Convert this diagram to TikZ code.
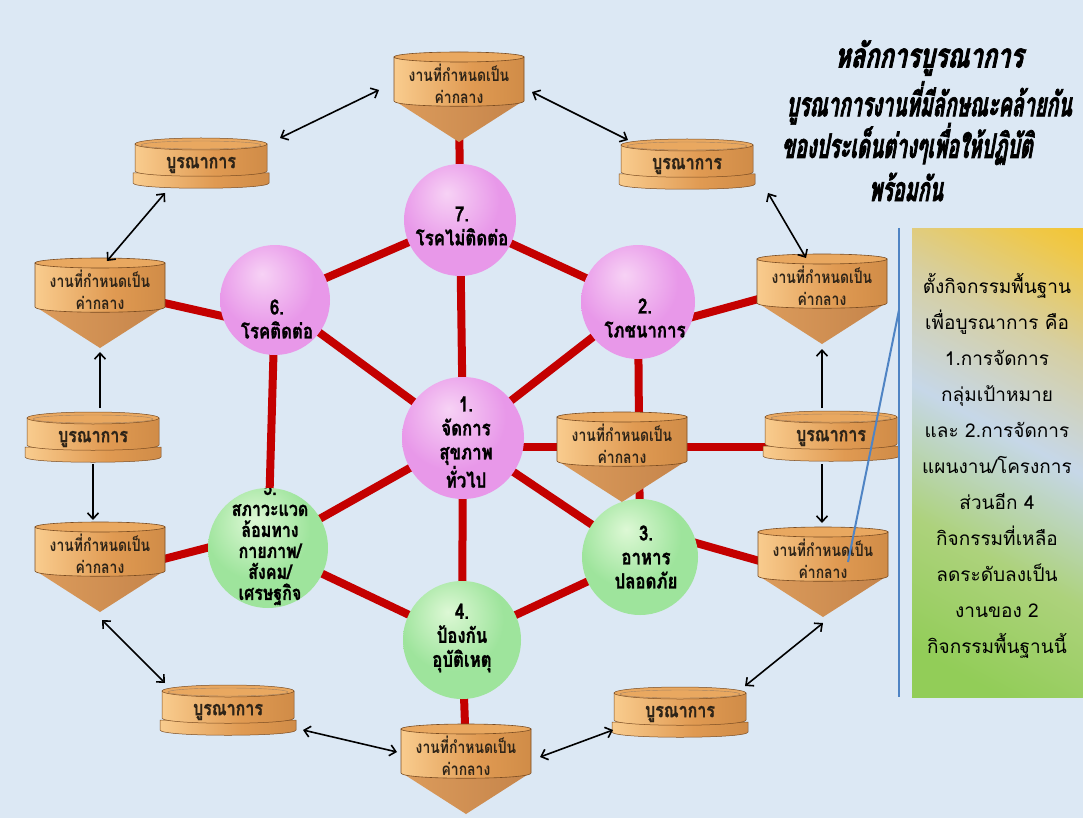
\documentclass[tikz,border=0pt]{standalone}
\usepackage{fontspec}
\usepackage{graphicx}
\usetikzlibrary{calc,arrows.meta}
\newfontfamily\thaireg[Script=Thai]{Loma}
\newfontfamily\thaicond[Script=Thai,FakeStretch=0.82]{Loma}
\newfontfamily\thaisph[Script=Thai,FakeStretch=0.8,FakeBold=1]{Loma}
\newfontfamily\thaititle[Script=Thai,FakeStretch=0.58,FakeSlant=0.18,FakeBold=2]{Loma}

\definecolor{bgblue}{HTML}{DCE8F4}
\definecolor{linkred}{HTML}{C40000}
\definecolor{orL}{HTML}{E6A25C}
\definecolor{orHi}{HTML}{F9CC8E}
\definecolor{orM}{HTML}{E09A52}
\definecolor{orD}{HTML}{BC7A3A}
\definecolor{orTop}{HTML}{E9A860}
\definecolor{orTri}{HTML}{DC9C5C}
\definecolor{orTriD}{HTML}{C5844A}
\definecolor{fundark}{HTML}{7A4C22}
\definecolor{funtx}{HTML}{2E2418}
\definecolor{pkhi}{HTML}{F7D2F5}
\definecolor{pkmid}{HTML}{E898E9}
\definecolor{pkedge}{HTML}{CB78CF}
\definecolor{gnhi}{HTML}{DDF8D5}
\definecolor{gnmid}{HTML}{9EE49C}
\definecolor{gnedge}{HTML}{6CC46E}
\definecolor{bxyellow}{HTML}{F8C010}
\definecolor{bxyel2}{HTML}{EFC84A}
\definecolor{bxtan}{HTML}{D6CFA2}
\definecolor{bxblue}{HTML}{C6D7E8}
\definecolor{bxgreen2}{HTML}{ADD27C}
\definecolor{bxgreen}{HTML}{92CD58}
\definecolor{bracketblue}{HTML}{4F84C4}

\pgfdeclarehorizontalshading{funbody}{100bp}{color(0bp)=(orL); color(25bp)=(orHi); color(55bp)=(orM); color(100bp)=(orD)}
\pgfdeclareradialshading{pinkball}{\pgfpoint{-6bp}{12bp}}{color(0bp)=(pkhi); color(22bp)=(pkmid); color(44bp)=(pkmid); color(56bp)=(pkedge); color(80bp)=(pkedge)}
\pgfdeclareradialshading{greenball}{\pgfpoint{-6bp}{12bp}}{color(0bp)=(gnhi); color(22bp)=(gnmid); color(44bp)=(gnmid); color(56bp)=(gnedge); color(80bp)=(gnedge)}
\pgfdeclareverticalshading{boxshade}{100bp}{color(0bp)=(bxgreen); color(22bp)=(bxgreen); color(38bp)=(bxgreen2); color(54bp)=(bxblue); color(68bp)=(bxtan); color(80bp)=(bxyel2); color(90bp)=(bxyellow); color(100bp)=(bxyellow)}

\pgfdeclarelayer{bglayer}
\pgfdeclarelayer{linelayer}
\pgfsetlayers{bglayer,linelayer,main}

\newcommand{\funnelat}[3]{%
  \coordinate (#1) at (#2,#3);
  \begin{scope}[shift={(#2,#3)}]
    \shade[left color=orTri, right color=orTriD] (-64,20) -- (0,61) -- (64,20) -- cycle;
    \shade[shading=funbody, draw=fundark, line width=0.6pt] (-65,-24) -- (-65,20) .. controls (-65,27) and (65,27) .. (65,20) -- (65,-24) -- cycle;
    \fill[orTop, draw=fundark, line width=0.6pt] (0,-24) ellipse [x radius=65pt, y radius=5pt];
    \node[funtext] (#1-t) at (0,3) {งานที่กำหนดเป็น\\ค่ากลาง};
  \end{scope}}

\newcommand{\cylat}[3]{%
  \coordinate (#1) at (#2,#3);
  \begin{scope}[shift={(#2,#3)}]
    \shade[shading=funbody, draw=fundark, line width=0.5pt] (-68,10) -- (-68,20) .. controls (-68,27) and (68,27) .. (68,20) -- (68,10) -- cycle;
    \shade[shading=funbody, draw=fundark, line width=0.5pt] (-66,-19) -- (-66,8) .. controls (-66,15) and (66,15) .. (66,8) -- (66,-19) -- cycle;
    \fill[orTop, draw=fundark, line width=0.5pt] (0,-19) ellipse [x radius=66pt, y radius=6pt];
    \draw[fundark!70, line width=0.4pt] (0,-18) ellipse [x radius=60pt, y radius=4pt];
    \node[cyltext] (#1-t) at (0,2) {บูรณาการ};
  \end{scope}}

\begin{document}
\begin{tikzpicture}[x=1pt,y=-1pt,
  funtext/.style={font=\thaicond\bfseries\fontsize{17}{22}\selectfont, align=center, text=funtx, inner sep=0pt},
  cyltext/.style={font=\thaisph\bfseries\fontsize{20}{22}\selectfont, text=funtx, inner sep=0pt},
  sphtext/.style={font=\thaisph\bfseries\fontsize{21}{24}\selectfont, align=center, text=black, inner sep=0pt},
  boxtext/.style={font=\thaireg\fontsize{19}{36}\selectfont, align=center, text=black},
  titletext/.style={font=\thaititle\bfseries\fontsize{34}{40}\selectfont, text=black, inner sep=0pt},
  sph/.style={circle, shade, inner sep=0pt, draw=none},
  redlink/.style={linkred, line width=8pt},
  dbl/.style={black, line width=1.6pt, {Straight Barb[length=6pt,width=11pt]}-{Straight Barb[length=6pt,width=11pt]}},
  sgl/.style={black, line width=1.6pt, -{Straight Barb[length=6pt,width=11pt]}},
  callout/.style={bracketblue, line width=2pt}
]
\useasboundingbox (0,0) rectangle (1083,818);
\begin{pgfonlayer}{bglayer}
  \fill[bgblue] (0,0) rectangle (1083,818);
\end{pgfonlayer}

% funnels
\funnelat{FT}{459}{81}
\funnelat{FLU}{100}{287}
\funnelat{FRU}{822}{283}
\funnelat{FM}{622}{441}
\funnelat{FRL}{823}{556}
\funnelat{FLL}{100}{551}
\funnelat{FB}{466}{753}

% cylinders
\cylat{CUL}{201}{163}
\cylat{CUR}{687}{164}
\cylat{CLM}{93}{437}
\cylat{CRM}{831}{436}
\cylat{CLL}{228}{710}
\cylat{CLR}{680}{712}

% spheres
\node[sph, shading=pinkball, minimum size=112pt] (s7) at (460,220) {};
\node[sph, shading=pinkball, minimum size=110pt] (s6) at (275,300) {};
\node[sph, shading=pinkball, minimum size=114pt] (s2) at (638,302) {};
\node[sph, shading=pinkball, minimum size=122pt] (s1) at (463,438) {};
\node[sph, shading=greenball, minimum size=120pt] (s5) at (268,548) {};
\node[sph, shading=greenball, minimum size=116pt] (s3) at (640,557) {};
\node[sph, shading=greenball, minimum size=118pt] (s4) at (462,640) {};

\node[sphtext] (s7-t) at (462,226) {7.\\โรคไม่ติดต่อ};
\node[sphtext] (s6-t) at (277,319) {6.\\โรคติดต่อ};
\node[sphtext] (s2-t) at (645,318) {2.\\โภชนาการ};
\node[sphtext] (s1-t) at (466,442) {1.\\จัดการ\\สุขภาพ\\ทั่วไป};
\node[sphtext] (s3-t) at (646,557) {3.\\อาหาร\\ปลอดภัย};
\node[sphtext] (s4-t) at (462,638) {4.\\ป้องกัน\\อุบัติเหตุ};
\begin{scope}
  \clip (s5.center) circle [radius=60pt];
  \node[sphtext, font=\thaisph\bfseries\fontsize{20}{21}\selectfont] (s5-t) at (270,543) {5.\\สภาวะแวด\\ล้อมทาง\\กายภาพ/\\สังคม/\\เศรษฐกิจ};
\end{scope}

% red links
\begin{pgfonlayer}{linelayer}
  \foreach \s in {s7,s6,s2,s5,s3,s4} {\draw[redlink] (s1.center) -- (\s.center);}
  \draw[redlink] (s7.center) -- (s2.center) -- (s3.center) -- (s4.center) -- (s5.center) -- (s6.center) -- (s7.center);
  \draw[redlink] (s7.center) -- (FT);
  \draw[redlink] (s4.center) -- (FB);
  \draw[redlink] ($(s6)+(0,28)$) -- ($(FLU)+(60,15)$);
  \draw[redlink] ($(s2)+(0,30)$) -- ($(FRU)+(-60,15)$);
  \draw[redlink] ($(s5)+(0,-16)$) -- ($(FLL)+(60,9)$);
  \draw[redlink] ($(s3)+(0,-30)$) -- ($(FRL)+(-60,6)$);
  \draw[redlink] ($(s1)+(0,9)$) -- ($(FM)+(0,6)$) -- ($(CRM)+(0,11)$);
\end{pgfonlayer}

% arrows
\draw[dbl] ($(FT)+(-80,9)$) -- ($(CUL)+(79,-25)$);
\draw[dbl] ($(FT)+(73,11)$) -- ($(CUR)+(-59,-24)$);
\draw[dbl] ($(CUL)+(-36,30)$) -- ($(FLU)+(7,-26)$);
\draw[dbl] ($(CUR)+(81,29)$) -- ($(FRU)+(-16,-25)$);
\draw[sgl] ($(CLM)+(7,-29)$) -- ($(FLU)+(0,65)$);
\draw[sgl] ($(CLM)+(0,27)$) -- ($(FLL)+(-7,-31)$);
\draw[sgl] ($(CRM)+(-9,-28)$) -- ($(FRU)+(0,66)$);
\draw[sgl] ($(CRM)+(-9,28)$) -- ($(FRL)+(-1,-33)$);
\draw[dbl] ($(FLL)+(2,69)$) -- ($(CLL)+(-63,-27)$);
\draw[dbl] ($(CLL)+(75,20)$) -- ($(FB)+(-69,-1)$);
\draw[dbl] ($(FB)+(74,4)$) -- ($(CLR)+(-67,18)$);
\draw[dbl] ($(CLR)+(65,-26)$) -- ($(FRL)+(0,67)$);

% info box
\node[shade, shading=boxshade, shading angle=-28, minimum width=171pt, minimum height=469pt, inner sep=0pt, anchor=north west] (infobox) at (912,228) {};
\node[boxtext] (infotext) at (997,466) {ตั้งกิจกรรมพื้นฐาน\\เพื่อบูรณาการ คือ\\1.การจัดการ\\กลุ่มเป้าหมาย\\และ 2.การจัดการ\\แผนงาน/โครงการ\\ส่วนอีก 4\\กิจกรรมที่เหลือ\\ลดระดับลงเป็น\\งานของ 2\\กิจกรรมพื้นฐานนี้};
\coordinate (brtop) at (899,228);
\coordinate (brbot) at (899,697);
\coordinate (brmid) at (899,310);
\draw[callout, line width=2.5pt] (brtop) -- (brbot);
\draw[callout] (brmid) -- ($(FRL)+(25,6)$);

% title
\node[titletext] (title1) at (929,58) {\scalebox{1.2}[1]{หลักการบูรณาการ}};
\node[titletext] (title2) at (929,103) {บูรณาการงานที่มีลักษณะคล้ายกัน};
\node[titletext] (title3) at (907,144) {ของประเด็นต่างๆเพื่อให้ปฏิบัติ};
\node[titletext] (title4) at (906,187) {พร้อมกัน};
\end{tikzpicture}
\end{document}
